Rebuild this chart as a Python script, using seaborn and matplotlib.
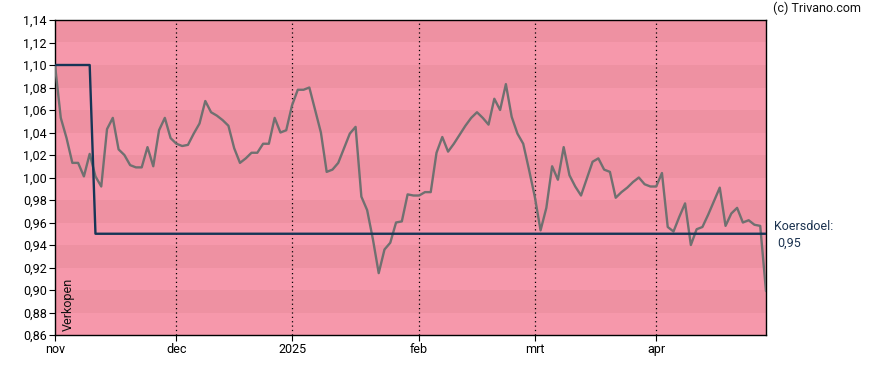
import matplotlib
matplotlib.use("Agg")
import matplotlib.pyplot as plt
import seaborn as sns
import pandas as pd

# ---- data ----
month_labels = ["nov", "dec", "2025", "feb", "mrt", "apr"]
month_pos = [0, 21, 41, 63, 83, 104]   # trading-day index of month start

price = [
    1.100, 1.053, 1.035, 1.013, 1.013, 1.001, 1.021, 1.001, 0.992, 1.043,
    1.053, 1.025, 1.020, 1.011, 1.009, 1.009, 1.027, 1.010, 1.042, 1.053,
    1.035, 1.030, 1.028, 1.029, 1.039, 1.048, 1.068, 1.058, 1.055, 1.051,
    1.046, 1.026, 1.013, 1.017, 1.022, 1.022, 1.030, 1.030, 1.053, 1.040,
    1.042, 1.064, 1.078, 1.078, 1.080, 1.060, 1.040, 1.005, 1.007, 1.013,
    1.026, 1.039, 1.045, 0.983, 0.971, 0.945, 0.915, 0.936, 0.942, 0.960,
    0.961, 0.985, 0.984, 0.984, 0.987, 0.987, 1.022, 1.036, 1.023, 1.030,
    1.038, 1.046, 1.053, 1.058, 1.053, 1.047, 1.070, 1.060, 1.083, 1.054,
    1.039, 1.030, 1.007, 0.983, 0.953, 0.973, 1.010, 0.998, 1.027, 1.002,
    0.992, 0.984, 0.999, 1.014, 1.017, 1.007, 1.005, 0.982, 0.987, 0.991,
    0.996, 1.000, 0.994, 0.992, 0.992, 1.004, 0.956, 0.952, 0.965, 0.977,
    0.940, 0.954, 0.956, 0.967, 0.979, 0.991, 0.957, 0.968, 0.973, 0.960,
    0.962, 0.958, 0.957, 0.899,
]
target_idx = [0, 6, 7, 123]
target_val = [1.10, 1.10, 0.95, 0.95]
target_label = "0,95"

y_ticks = [0.86, 0.88, 0.90, 0.92, 0.94, 0.96, 0.98, 1.00, 1.02, 1.04,
           1.06, 1.08, 1.10, 1.12, 1.14]

# ---- style ----
sns.set_theme(style="white")
plt.rcParams["font.family"] = ["Roboto", "DejaVu Sans"]

W, H = 888, 370
fig = plt.figure(figsize=(W / 100, H / 100), dpi=100)
ax = fig.add_axes([55 / W, (H - 335) / H, (766 - 55) / W, (335 - 20) / H])

# background bands
dark, light = "#ee91a2", "#f698ab"
for i in range(len(y_ticks) - 1):
    lo, hi = y_ticks[i], y_ticks[i + 1]
    ax.axhspan(lo, hi, color=(light if i % 2 == 0 else dark), lw=0, zorder=0)

df = pd.DataFrame({"x": range(len(price)), "price": price})
tdf = pd.DataFrame({"x": target_idx, "target": target_val})

sns.lineplot(data=df, x="x", y="price", ax=ax, color="#707070", lw=1.7, zorder=3)
sns.lineplot(data=tdf, x="x", y="target", ax=ax, color="#163556", lw=1.7, zorder=4)

for p in month_pos[1:]:
    ax.axvline(p, color="black", lw=0.9, ls=(0, (1, 2.5)), zorder=2)

ax.set_xlim(0, len(price) - 1)
ax.set_ylim(0.86, 1.14)
ax.set_xticks(month_pos)
ax.set_xticklabels(month_labels)
ax.set_yticks(y_ticks)
ax.set_yticklabels([f"{v:.2f}".replace(".", ",") for v in y_ticks])
ax.set_xlabel("")
ax.set_ylabel("")
ax.tick_params(axis="both", labelsize=9, colors="black", length=4,
               width=0.8, direction="out", left=True, bottom=True, pad=2)
for s in ax.spines.values():
    s.set_color("black")
    s.set_linewidth(1.0)

ax.text(0.010, 0.012, "Verkopen", transform=ax.transAxes, rotation=90,
        fontsize=9, color="#111111", ha="left", va="bottom")

fig.text(774 / W, 1 - 226 / H, "Koersdoel:", fontsize=9, color="#1c3350",
         ha="left", va="center")
fig.text(777 / W, 1 - 243 / H, target_label, fontsize=9, color="#1c3350",
         ha="left", va="center")
fig.text(773 / W, 1 - 8 / H, "(c) Trivano.com", fontsize=9, color="#111111",
         ha="left", va="center")

fig.savefig("out.png", dpi=100, facecolor="white")
